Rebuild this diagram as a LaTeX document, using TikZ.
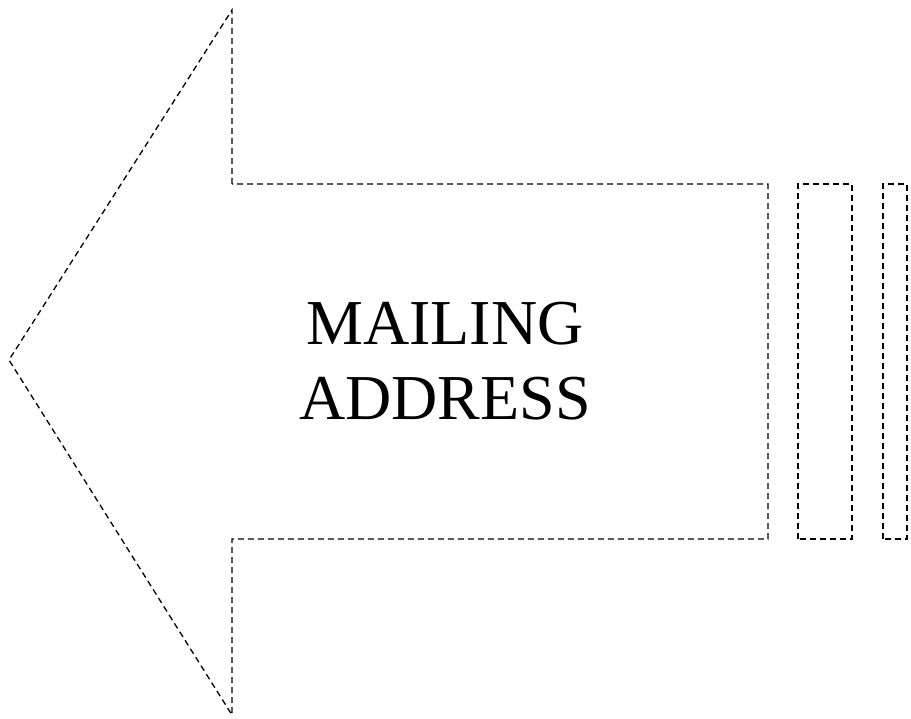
\documentclass[tikz,border=0pt]{standalone}
\usepackage{fontspec}
\setmainfont{Liberation Serif}
\begin{document}
\begin{tikzpicture}[x=1pt,y=1pt,
  outline/.style={draw=black,line width=1.3pt,dash pattern=on 6pt off 4pt,line join=miter},
  label/.style={align=center,font=\fontsize{64}{75}\selectfont,inner sep=0pt}]
\useasboundingbox (0,0) rectangle (911,719);
\draw[outline] (232,535) -- (232,709) -- (9,359) -- (232,4) -- (232,180) -- (768,180) -- (768,535) -- cycle;
\draw[outline] (798,180) rectangle (852,535);
\draw[outline] (883,180) rectangle (907,535);
\node[label] (t) at (445,358) {MAILING\\ADDRESS};
\end{tikzpicture}
\end{document}
